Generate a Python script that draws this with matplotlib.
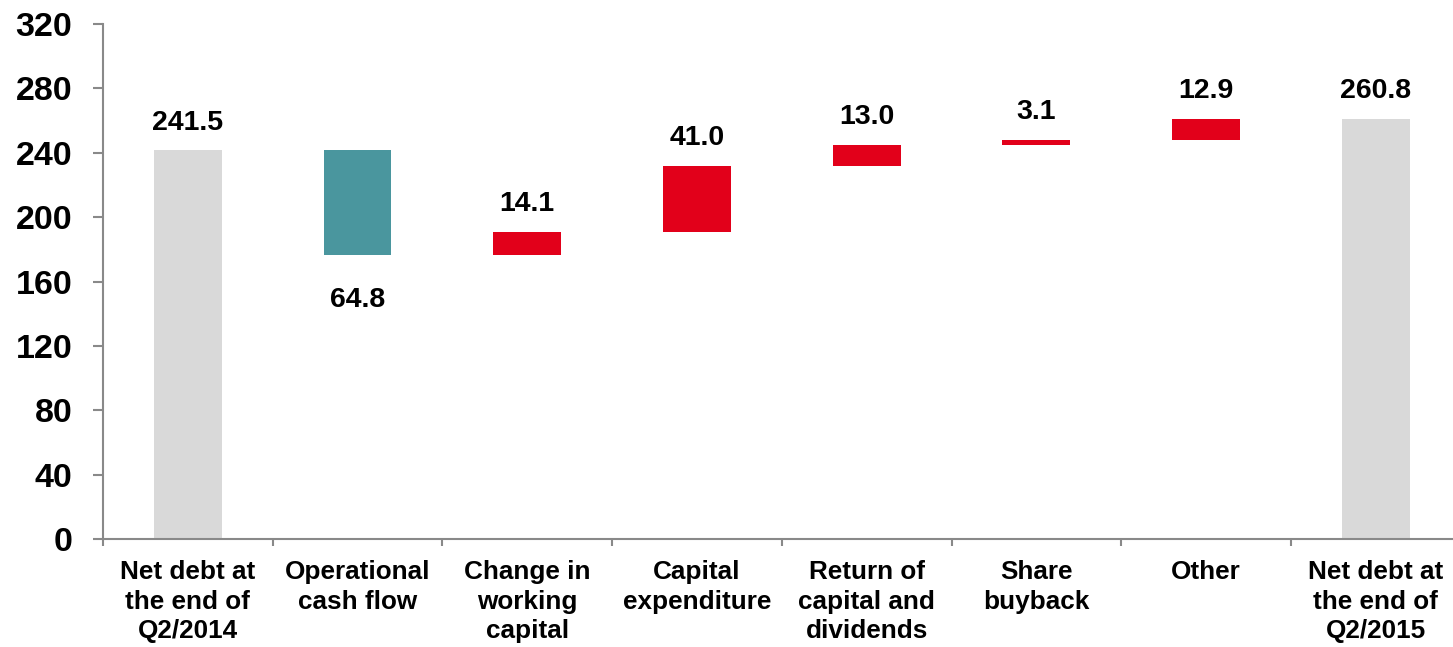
import numpy as np
import matplotlib
matplotlib.use('Agg')
from matplotlib import pyplot as plt

categories = ['Net debt at\nthe end of\nQ2/2014', 'Operational\ncash flow', 'Change in\nworking\ncapital',
              'Capital\nexpenditure', 'Return of\ncapital and\ndividends', 'Share\nbuyback', 'Other',
              'Net debt at\nthe end of\nQ2/2015']
start_value = 241.5
changes = [-64.8, 14.1, 41.0, 13.0, 3.1, 12.9]
end_value = 260.8
labels = ['241.5', '64.8', '14.1', '41.0', '13.0', '3.1', '12.9', '260.8']
yticks = [0, 40, 80, 120, 160, 200, 240, 280, 320]

GREY = '#d9d9d9'
TEAL = '#4a969e'
RED = '#e2001a'

plt.rcParams['font.family'] = ['Liberation Sans', 'DejaVu Sans']
plt.rcParams['font.weight'] = 'bold'

fig = plt.figure(figsize=(14.53, 6.47), dpi=100)
ax = fig.add_axes([103/1453, 1-539/647, 1-103/1453, (539-24)/647])

# waterfall bottoms/heights
bottoms = [0]
heights = [start_value]
colors = [GREY]
level = start_value
for c in changes:
	if c < 0:
		bottoms.append(level + c)
		heights.append(-c)
		colors.append(TEAL)
	else:
		bottoms.append(level)
		heights.append(c)
		colors.append(RED)
	level += c
bottoms.append(0)
heights.append(end_value)
colors.append(GREY)

x = np.arange(len(categories))
ax.bar(x, heights, bottom=bottoms, width=0.4, color=colors, zorder=2)

for i in range(len(x)):
	if colors[i] == TEAL:
		ax.annotate(labels[i], (x[i], bottoms[i]), xytext=(0, -38), textcoords='offset points',
			ha='center', va='baseline', fontsize=20.5, fontweight='bold')
	else:
		ax.annotate(labels[i], (x[i], bottoms[i] + heights[i]), xytext=(0, 15), textcoords='offset points',
			ha='center', va='baseline', fontsize=20.5, fontweight='bold')

ax.set_ylim(0, 320)
ax.set_xlim(-0.5, 7.455)
ax.set_yticks(yticks)
ax.set_yticklabels([str(v) for v in yticks], fontsize=24.5, fontweight='bold')
ax.set_xticks(x)
ax.set_xticklabels(categories, fontsize=18.8, fontweight='bold', linespacing=1.3)
ax.set_xticks(np.arange(-0.5, 7.5, 1), minor=True)
ax.tick_params(axis='x', which='major', length=0, pad=15)
ax.tick_params(axis='x', which='minor', length=5, width=1.5, color='#898989', direction='out')
ax.tick_params(axis='y', length=7, width=1.5, color='#898989', pad=15)

for s in ['top', 'right']:
	ax.spines[s].set_visible(False)
for s in ['left', 'bottom']:
	ax.spines[s].set_color('#898989')
	ax.spines[s].set_linewidth(1.5)

fig.savefig('out.png', dpi=100)
